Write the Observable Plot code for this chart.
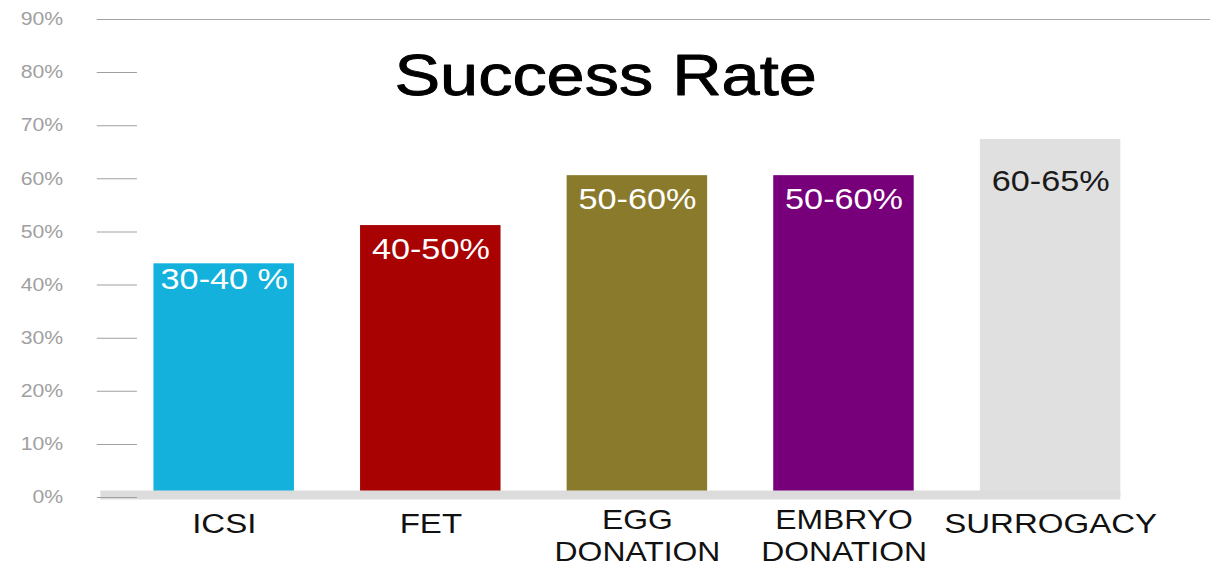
<!DOCTYPE html>
<html>
<head>
<meta charset="utf-8">
<script src="https://cdn.jsdelivr.net/npm/d3@7"></script>
<script src="https://cdn.jsdelivr.net/npm/@observablehq/plot@0.6"></script>
<style>
  html, body { margin: 0; padding: 0; background: #fff; }
  #chart svg { display: block; }
</style>
</head>
<body>
<div id="chart"></div>
<script>
// Data
const categories = ["ICSI", "FET", "EGG\nDONATION", "EMBRYO\nDONATION", "SURROGACY"];
const values = [44.0, 51.2, 60.6, 60.6, 67.4];
const rangeLabels = ["30-40 %", "40-50%", "50-60%", "50-60%", "60-65%"];
const barColors = ["#13b1db", "#a80202", "#8a7a2c", "#77007a", "#e0e0e0"];
const yTicks = [0, 10, 20, 30, 40, 50, 60, 70, 80, 90];
const title = "Success Rate";

const data = categories.map((c, i) => ({cat: c, value: values[i], label: rangeLabels[i]}));
const singleLine = categories.filter(c => !c.includes("\n"));
const twoLine = categories.filter(c => c.includes("\n"));

// The reference image is horizontally stretched; draw narrower, then stretch
const stretch = 1.18;
const W = Math.round(1223 / stretch);
const H = 565;

const chart = Plot.plot({
  width: W,
  height: H,
  marginTop: 19,
  marginBottom: 68,
  marginLeft: 116,
  marginRight: 11,
  style: {fontFamily: "'Liberation Sans', Arial, sans-serif", background: "#fff", color: "#111"},
  x: {domain: categories, range: [74, 1005], padding: 0.32, label: null},
  y: {domain: [0, 90], label: null},
  color: {domain: categories, range: barColors},
  marks: [
    Plot.barY(data, {x: "cat", y: "value", fill: "cat"}),
    Plot.ruleY([0], {stroke: "#dcdcdc", strokeWidth: 9, dy: -2.5, insetLeft: -31, insetRight: 76}),
    Plot.ruleY([90], {stroke: "#a8a8a8", strokeWidth: 1.2, insetLeft: -31}),
    Plot.axisY({ticks: yTicks, tickSize: 34, tickPadding: 29, tickFormat: d => d + "%",
      fontSize: 18, color: "#a0a0a0", label: null}),
    Plot.axisX({ticks: singleLine, tickSize: 0, tickPadding: 16, fontSize: 28, color: "#111", label: null}),
    Plot.axisX({ticks: twoLine, tickSize: 0, tickPadding: 9, fontSize: 27, lineHeight: 1.18, color: "#111", label: null}),
    Plot.text(data.filter((d, i) => i === 0), {x: "cat", y: "value", text: "label", lineAnchor: "top", dy: 5, fontSize: 29, fill: "#fff"}),
    Plot.text(data.filter((d, i) => i > 0 && i < 4), {x: "cat", y: "value", text: "label", lineAnchor: "top", dy: 13, fontSize: 29, fill: "#fff"}),
    Plot.text(data.filter((d, i) => i === 4), {x: "cat", y: "value", text: "label", lineAnchor: "top", dy: 31, fontSize: 29, fill: "#1a1a1a"}),
    Plot.text([title], {frameAnchor: "top", dx: -58, dy: 34, fontSize: 58, fill: "#000", stroke: "#000", strokeWidth: 0.9})
  ]
});

chart.setAttribute("width", 1223);
chart.setAttribute("height", H);
chart.setAttribute("preserveAspectRatio", "none");
chart.style.maxWidth = "none";
chart.style.width = "1223px";
chart.style.height = H + "px";
document.getElementById("chart").appendChild(chart);
</script>
</body>
</html>
